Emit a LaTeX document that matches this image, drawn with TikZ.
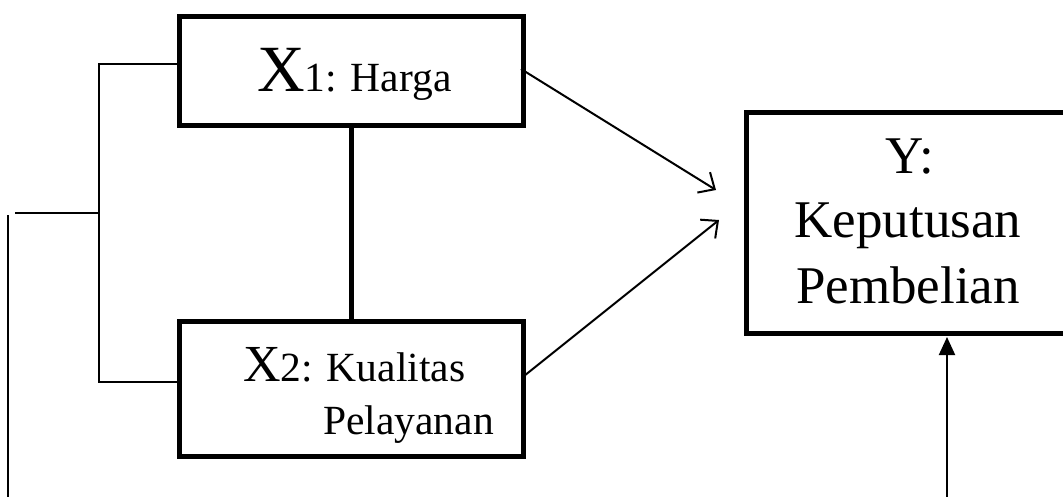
\documentclass[tikz,border=0pt]{standalone}
\usepackage{fontspec}
\setmainfont{Liberation Serif}
\usetikzlibrary{arrows.meta}
\tikzset{
  varbox/.style={draw, line width=5pt, rectangle, inner sep=0pt, anchor=north west},
  thin/.style={line width=2pt},
  barb/.style={line width=2pt, -{Straight Barb[length=13pt,width=24pt,line width=2pt]}},
  solidtip/.style={line width=2pt, -{Triangle[length=18pt,width=16pt]}},
  lbl/.style={inner sep=0pt, anchor=base west},
}
\newcommand{\fsbigx}{\fontsize{66}{70}\selectfont}
\newcommand{\fsmidx}{\fontsize{52}{56}\selectfont}
\newcommand{\fslabel}{\fontsize{41.5}{46}\selectfont}
\newcommand{\fsy}{\fontsize{53}{65}\selectfont}
\begin{document}
\begin{tikzpicture}[x=1pt,y=-1pt]
  \useasboundingbox (0,0) rectangle (1063,496);
  \clip (0,0) rectangle (1063,496);

  % variable boxes
  \node[varbox, minimum width=344pt, minimum height=109pt] (x1) at (177,14) {};
  \node[varbox, minimum width=344pt, minimum height=135pt] (x2) at (177,319) {};
  \node[varbox, minimum width=330pt, minimum height=221pt] (y) at (744,110) {};

  % labels
  \node[lbl] (x1t) at (257,91) {\fsbigx X\fslabel 1: Harga};
  \node[lbl] (x2t) at (243,381) {\fsmidx X\fslabel 2: Kualitas};
  \node[lbl] (x2u) at (323,434) {\fslabel Pelayanan};
  \node[inner sep=0pt, anchor=base] (yt1) at (910,173) {\fsy Y:};
  \node[inner sep=0pt, anchor=base] (yt2) at (908,237) {\fsy Keputusan};
  \node[inner sep=0pt, anchor=base] (yt3) at (908,303) {\fsy Pembelian};

  % correlation between X1 and X2
  \draw[line width=5pt] (x1.south) -- (x2.north);

  % arrow ends
  \coordinate (a1s) at (521,69);
  \coordinate (a1e) at (716,190);
  \coordinate (a2s) at (524,376);
  \coordinate (a2e) at (719,220);
  \draw[barb] (a1s) -- (a1e);
  \draw[barb] (a2s) -- (a2e);

  % residual arrow into Y
  \coordinate (eps) at (947,500);
  \draw[solidtip] (eps) -- (947,337);

  % simultaneous bracket on the left
  \coordinate (bt) at (99,64);
  \coordinate (bb) at (99,382);
  \coordinate (bm) at (99,213);
  \coordinate (bl) at (15,213);
  \draw[thin] (x1.west |- bt) -- (bt) -- (bb) -- (x2.west |- bb);
  \draw[thin] (bm) -- (bl);
  \coordinate (vt) at (8,215);
  \coordinate (vb) at (8,500);
  \draw[thin] (vt) -- (vb);
\end{tikzpicture}
\end{document}
